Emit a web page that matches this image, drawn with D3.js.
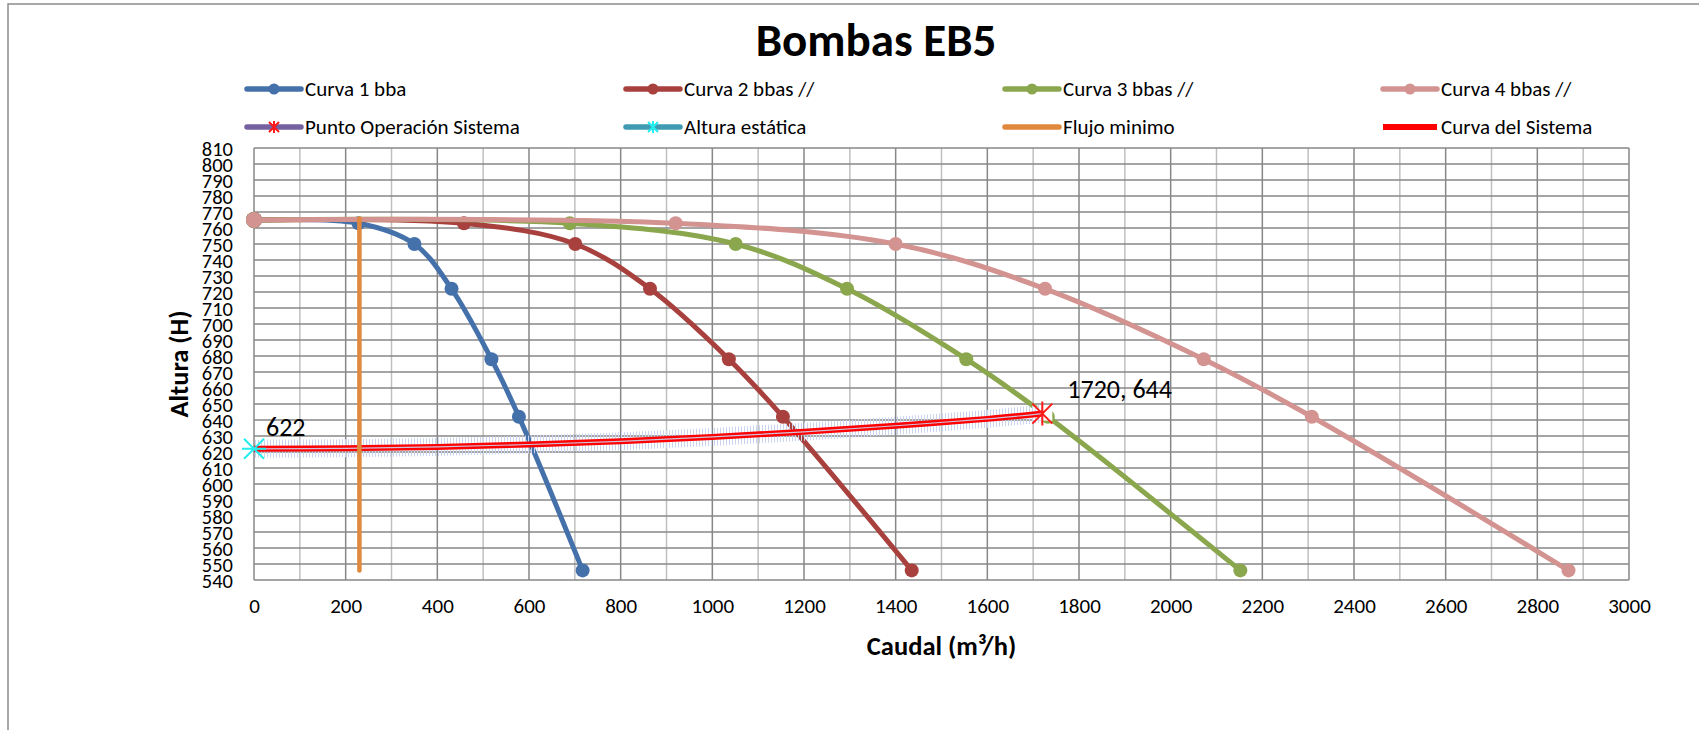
<!DOCTYPE html>
<html>
<head>
<meta charset="utf-8">
<script src="https://cdn.jsdelivr.net/npm/d3@7"></script>
<style>
  body { margin: 0; background: #fff; }
  text { font-family: Carlito, Calibri, 'Open Sans', sans-serif; }
</style>
</head>
<body>
<div id="chart"></div>
<script>
var seriesNames = ['Curva 1 bba', 'Curva 2 bbas //', 'Curva 3 bbas //', 'Curva 4 bbas //',
  'Punto Operación Sistema', 'Altura estática', 'Flujo minimo', 'Curva del Sistema']

// pump curves
var q1 = [0, 228, 350, 431, 518, 578, 717]
var q2 = [0, 458, 701, 864, 1036, 1154, 1435]
var q3 = [0, 689, 1051, 1294, 1554, 1732, 2152]
var q4 = [0, 920, 1400, 1726, 2072, 2308, 2868]
var hPump = [765, 763, 750, 722, 678, 642, 546]

var sysQ = [0, 200, 400, 600, 800, 1000, 1200, 1400, 1600, 1720]
var sysH = [622, 622.3, 623.2, 624.7, 626.7, 629.4, 632.6, 636.4, 640.7, 644]

var minQ = [230, 230]
var minH = [546, 766]

var staticPt = [0, 622]
var opPt = [1720, 644]

var xTicks = d3.range(0, 3001, 200)
var yTicks = d3.range(540, 811, 10)

var colors = ['#4571ab', '#a8413e', '#8ba74d', '#d39391', '#7560a0', '#3f9bb3', '#e0883b', '#ff0000']

var width = 1699, height = 730
var svg = d3.select('#chart').append('svg')
  .attr('width', width).attr('height', height)

svg.append('path')
  .attr('d', 'M8,' + height + 'V4H' + width)
  .attr('fill', 'none').attr('stroke', '#8c8c8c').attr('stroke-width', 1.5)

var x = d3.scaleLinear().domain([0, 3000]).range([254, 1629])
var y = d3.scaleLinear().domain([540, 810]).range([580, 148])

var defs = svg.append('defs')
var pat = defs.append('pattern')
  .attr('id', 'hatch').attr('patternUnits', 'userSpaceOnUse')
  .attr('width', 3).attr('height', 4)
pat.append('rect').attr('width', 1).attr('height', 4).attr('fill', '#c9d4ee')

// grid
var g = svg.append('g')
g.selectAll('.vminor').data(d3.range(100, 3000, 200)).join('line')
  .attr('x1', x).attr('x2', x).attr('y1', y(540)).attr('y2', y(810))
  .attr('stroke', '#c0c0c0').attr('stroke-width', 1.5)
g.selectAll('.vmajor').data(xTicks).join('line')
  .attr('x1', x).attr('x2', x).attr('y1', y(540)).attr('y2', y(810))
  .attr('stroke', '#878787').attr('stroke-width', 1.5)
g.selectAll('.hgrid').data(yTicks).join('line')
  .attr('x1', x(0)).attr('x2', x(3000)).attr('y1', y).attr('y2', y)
  .attr('stroke', '#878787').attr('stroke-width', 1.5)

// axes
var yAxis = svg.append('g').attr('transform', 'translate(' + (x(0) - 21) + ',0)')
  .call(d3.axisLeft(y).tickValues(yTicks).tickSize(0).tickPadding(0).tickFormat(d3.format('d')))
var xAxis = svg.append('g').attr('transform', 'translate(0,' + (y(540) + 18) + ')')
  .call(d3.axisBottom(x).tickValues(xTicks).tickSize(0).tickPadding(0).tickFormat(d3.format('d')))
svg.selectAll('.domain').remove()
svg.selectAll('.tick text').attr('fill', '#000')
yAxis.selectAll('.tick text').attr('dy', '0.36em').attr('font-size', 20.5)
xAxis.selectAll('.tick text').attr('dy', '0.7em').attr('font-size', 21)

svg.append('text').text('Caudal (m³/h)')
  .attr('x', (x(0) + x(3000)) / 2).attr('y', 655)
  .attr('text-anchor', 'middle').attr('font-size', 26.5).attr('font-weight', 'bold')
svg.append('text').text('Altura (H)')
  .attr('transform', 'translate(188,' + (y(540) + y(810)) / 2 + ') rotate(-90)')
  .attr('text-anchor', 'middle').attr('font-size', 26.5).attr('font-weight', 'bold')

svg.append('text').text('Bombas EB5')
  .attr('x', 876).attr('y', 56)
  .attr('text-anchor', 'middle').attr('font-size', 47).attr('font-weight', 'bold')

var smooth = d3.line().x(d => x(d[0])).y(d => y(d[1])).curve(d3.curveCatmullRom.alpha(0.5))
var straight = d3.line().x(d => x(d[0])).y(d => y(d[1]))

var pumps = [q1, q2, q3, q4].map(q => q.map((v, i) => [v, hPump[i]]))
pumps.forEach(function(pts, i){
  svg.append('path').attr('d', smooth(pts))
    .attr('fill', 'none').attr('stroke', colors[i]).attr('stroke-width', 5)
  svg.selectAll('.dot' + i).data(pts).join('circle')
    .attr('cx', d => x(d[0])).attr('cy', d => y(d[1]))
    .attr('r', (d, j) => j ? 7 : 8).attr('fill', colors[i])
})

// system curve
var sys = sysQ.map((v, i) => [v, sysH[i]])
svg.append('rect')
  .attr('x', x(opPt[0]) - 10).attr('y', y(opPt[1]) - 7)
  .attr('width', 20).attr('height', 14).attr('fill', '#fff')
svg.append('path').attr('d', smooth(sys))
  .attr('fill', 'none').attr('stroke', 'url(#hatch)').attr('stroke-width', 18)
svg.append('path').attr('d', smooth(sys))
  .attr('fill', 'none').attr('stroke', colors[7]).attr('stroke-width', 6)
svg.append('path').attr('d', smooth(sys))
  .attr('fill', 'none').attr('stroke', '#cfc3dc').attr('stroke-width', 1.2)

svg.append('path').attr('d', straight(minQ.map((v, i) => [v, minH[i]])))
  .attr('fill', 'none').attr('stroke', colors[6]).attr('stroke-width', 4.5)
  .attr('stroke-linecap', 'round')

function star(s, vertical){
  return 'M' + -s + ',' + -s + 'L' + s + ',' + s + 'M' + -s + ',' + s + 'L' + s + ',' + -s +
    (vertical ? 'M0,' + -s * 1.2 + 'V' + s * 1.2 : 'M' + -s * 1.2 + ',0H' + s * 1.2)
}
svg.append('path').attr('d', star(10, false))
  .attr('transform', 'translate(' + x(staticPt[0]) + ',' + y(staticPt[1]) + ')')
  .attr('fill', 'none').attr('stroke', '#22eef0').attr('stroke-width', 2)
svg.append('path').attr('d', star(10, true))
  .attr('transform', 'translate(' + x(opPt[0]) + ',' + y(opPt[1]) + ')')
  .attr('fill', 'none').attr('stroke', '#ff1a1a').attr('stroke-width', 2)

svg.append('text').text(staticPt[1])
  .attr('x', x(staticPt[0]) + 12).attr('y', y(staticPt[1]) - 13).attr('font-size', 26)
svg.append('text').text(opPt.join(', '))
  .attr('x', x(opPt[0]) + 25).attr('y', y(opPt[1]) - 16).attr('font-size', 26)

// legend
var legX = [247, 626, 1005, 1383], legY = [89, 127]
seriesNames.forEach(function(name, i){
  var lx = legX[i % 4], ly = legY[Math.floor(i / 4)]
  var lg = svg.append('g').attr('transform', 'translate(' + lx + ',' + ly + ')')
  lg.append('line').attr('x1', 0).attr('x2', 54)
    .attr('stroke', colors[i]).attr('stroke-width', i == 7 ? 6 : 5.5)
    .attr('stroke-linecap', i == 7 ? 'butt' : 'round')
  if (i < 4) lg.append('circle').attr('cx', 27).attr('r', 5.5).attr('fill', colors[i])
  if (i == 4) lg.append('path').attr('d', star(5, true)).attr('transform', 'translate(27,0)')
    .attr('stroke', '#ff1a1a').attr('stroke-width', 2)
  if (i == 5) lg.append('path').attr('d', star(5, true)).attr('transform', 'translate(27,0)')
    .attr('stroke', '#22eef0').attr('stroke-width', 2)
  lg.append('text').text(name).attr('x', 58).attr('dy', '0.35em').attr('font-size', 21)
})
</script>
</body>
</html>
